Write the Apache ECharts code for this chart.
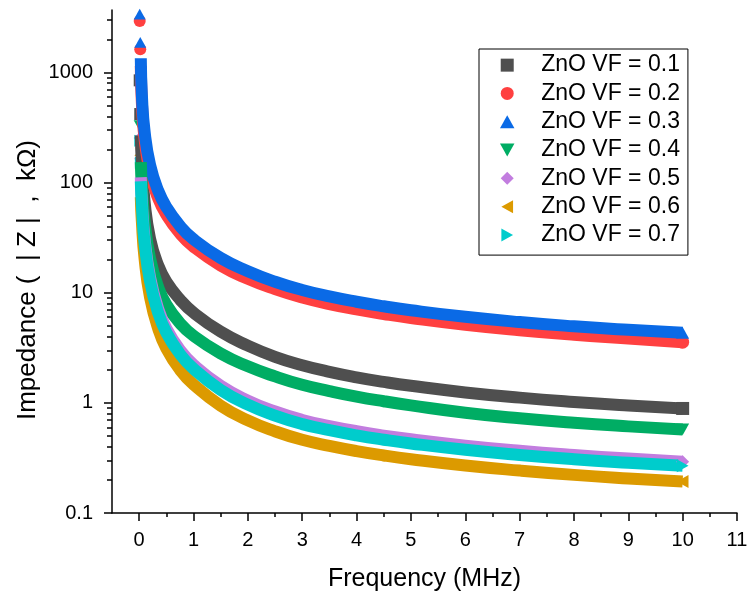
<!DOCTYPE html>
<html>
<head>
<meta charset="utf-8">
<script src="https://cdn.jsdelivr.net/npm/echarts@6/dist/echarts.min.js"></script>
<style>
html,body{margin:0;padding:0;background:#fff}
#chart{width:748px;height:592px}
</style>
</head>
<body>
<div id="chart"></div>
<script>
// frequency (MHz)
var freq = [0.01, 0.02, 0.03, 0.05, 0.1, 0.2, 0.35, 0.5, 0.75, 1, 1.5, 2, 2.5, 3, 3.5, 4, 4.5, 5, 6, 7, 8, 9, 10];
// |Z| in kOhm, one array per ZnO volume fraction
var vf01 = [850, 420, 269, 149, 67, 31, 17.7, 12.6, 8.7, 6.6, 4.43, 3.31, 2.62, 2.2, 1.914, 1.707, 1.552, 1.43, 1.245, 1.116, 1.021, 0.948, 0.89];
var vf02 = [2940, 1630, 1150, 530, 248, 124, 72, 51.3, 34.6, 26.2, 17.7, 13.4, 10.8, 9.06, 7.9, 7.07, 6.42, 5.9, 5.12, 4.57, 4.16, 3.85, 3.56];
var vf03 = [3400, 1880, 1350, 620, 290, 145, 84.5, 60, 40.5, 30.6, 20.7, 15.7, 12.6, 10.6, 9.26, 8.29, 7.54, 6.94, 6.05, 5.42, 4.96, 4.61, 4.33];
var vf04 = [330, 230, 154, 92, 44, 20.5, 11.2, 7.8, 5.3, 4.07, 2.81, 2.15, 1.74, 1.46, 1.28, 1.14, 1.035, 0.95, 0.815, 0.725, 0.66, 0.612, 0.574];
var vf05 = [255, 165, 112, 66, 30.7, 13.8, 7.15, 4.74, 3.03, 2.22, 1.43, 1.05, 0.835, 0.7, 0.616, 0.553, 0.505, 0.467, 0.409, 0.367, 0.336, 0.312, 0.292];
var vf06 = [177, 109, 74, 44, 20.3, 9.1, 4.72, 3.13, 2.0, 1.47, 0.943, 0.694, 0.552, 0.462, 0.407, 0.365, 0.333, 0.308, 0.27, 0.243, 0.222, 0.206, 0.193];
var vf07 = [240, 152, 103, 61, 28.2, 12.7, 6.56, 4.35, 2.78, 2.04, 1.31, 0.964, 0.766, 0.642, 0.565, 0.507, 0.463, 0.428, 0.375, 0.337, 0.308, 0.286, 0.268];

var names = ['ZnO VF = 0.1', 'ZnO VF = 0.2', 'ZnO VF = 0.3', 'ZnO VF = 0.4', 'ZnO VF = 0.5', 'ZnO VF = 0.6', 'ZnO VF = 0.7'];
var xTicks = [0, 1, 2, 3, 4, 5, 6, 7, 8, 9, 10, 11];
var xMinor = [0.5, 1.5, 2.5, 3.5, 4.5, 5.5, 6.5, 7.5, 8.5, 9.5, 10.5];
var yTicks = [0.1, 1, 10, 100, 1000];
var yMinor = [0.2, 0.3, 0.4, 0.5, 0.6, 0.7, 0.8, 0.9, 2, 3, 4, 5, 6, 7, 8, 9,
  20, 30, 40, 50, 60, 70, 80, 90, 200, 300, 400, 500, 600, 700, 800, 900, 2000, 3000];
var yMin = 0.1, yMax = 3700;

var colors = ['#4f4f4f', '#ff4040', '#0a6ae6', '#00ad64', '#c27ddf', '#dc9a00', '#00cccc'];
// marker shapes: square, circle, up, down, diamond, left, right
var icons = [
  'path://M0,0H10V10H0Z',
  'path://M5,0A5,5,0,1,1,5,10A5,5,0,1,1,5,0Z',
  'path://M5,0L10,9L0,9Z',
  'path://M0,0L10,0L5,9Z',
  'path://M5,0L10,5L5,10L0,5Z',
  'path://M0,5L9,0L9,10Z',
  'path://M0,0L9,5L0,10Z'
];
var font = '"Liberation Sans", Arial, sans-serif';
var lg = Math.log10;

var chart = echarts.init(document.getElementById('chart'));

var groups = [vf01, vf02, vf03, vf04, vf05, vf06, vf07];
var series = [];
groups.forEach(function (vals, i) {
  var pts = freq.map(function (f, j) { return [f, vals[j]]; });
  // first two points stand apart at the top of the spike
  series.push({
    name: names[i], type: 'scatter', data: pts.slice(0, 2),
    symbol: icons[i], symbolSize: 12, symbolKeepAspect: true,
    itemStyle: { color: colors[i], opacity: 1 }, silent: true
  });
  var rest = pts.slice(2).map(function (p, k, arr) {
    return k === arr.length - 1 ? { value: p } : { value: p, symbol: 'none' };
  });
  series.push({
    name: names[i], type: 'line', data: rest,
    smooth: 0.5,
    symbol: icons[i], symbolSize: 13, symbolKeepAspect: true, showSymbol: true,
    lineStyle: { width: 12, color: colors[i], cap: 'butt', join: 'round' },
    itemStyle: { color: colors[i] }, silent: true
  });
});

var tickStyle = { color: '#000', width: 1.5 };

var option = {
  animation: false,
  backgroundColor: '#fff',
  grid: { left: 112, right: 11, top: 10, bottom: 79, outerBoundsMode: 'none' },
  legend: {
    orient: 'vertical', left: 479, top: 49,
    padding: [2, 8, 6, 21], itemGap: 0,
    itemWidth: 58, itemHeight: 13,
    borderColor: '#000', borderWidth: 1, backgroundColor: '#fff',
    selectedMode: false,
    textStyle: { fontFamily: font, fontSize: 23, color: '#000', lineHeight: 28.3 },
    data: names.map(function (n, i) { return { name: n, icon: icons[i] }; })
  },
  graphic: [{
    type: 'text', x: 28, y: 280, rotation: Math.PI / 2,
    style: {
      text: 'Impedance (  | Z |  ,  kΩ)', fill: '#000',
      font: '26px "Liberation Sans", Arial, sans-serif',
      textAlign: 'center', textVerticalAlign: 'middle'
    }
  }],
  xAxis: [{
    type: 'value', min: -0.5, max: 11,
    name: 'Frequency (MHz)', nameLocation: 'middle', nameGap: 54,
    nameTextStyle: { fontFamily: font, fontSize: 25, color: '#000' },
    axisLine: { show: true, onZero: false, lineStyle: tickStyle },
    axisTick: { show: true, length: 8, customValues: xTicks, lineStyle: tickStyle },
    axisLabel: { customValues: xTicks, margin: 17, fontFamily: font, fontSize: 20, color: '#000' },
    splitLine: { show: false }
  }, {
    type: 'value', min: -0.5, max: 11, position: 'bottom',
    axisLine: { show: false, onZero: false },
    axisTick: { show: true, length: 4, customValues: xMinor, lineStyle: tickStyle },
    axisLabel: { show: false },
    splitLine: { show: false }
  }],
  yAxis: [{
    // data axis
    type: 'log', logBase: 10, min: yMin, max: yMax,
    axisLine: { show: true, onZero: false, lineStyle: tickStyle },
    axisTick: { show: false },
    axisLabel: { show: false },
    splitLine: { show: false }
  }, {
    // major ticks and labels, same span in decades
    type: 'value', min: lg(yMin), max: lg(yMax), position: 'left',
    axisLine: { show: false, onZero: false },
    axisTick: { show: true, length: 8, customValues: yTicks.map(lg), lineStyle: tickStyle },
    axisLabel: {
      customValues: yTicks.map(lg), margin: 19, fontFamily: font, fontSize: 20, color: '#000',
      formatter: function (v) {
        var r = Math.pow(10, v);
        return r < 1 ? r.toFixed(1) : String(Math.round(r));
      }
    },
    splitLine: { show: false }
  }, {
    // minor ticks
    type: 'value', min: lg(yMin), max: lg(yMax), position: 'left',
    axisLine: { show: false, onZero: false },
    axisTick: { show: true, length: 5, customValues: yMinor.map(lg), lineStyle: tickStyle },
    axisLabel: { show: false },
    splitLine: { show: false }
  }],
  series: series
};
chart.setOption(option);
</script>
</body>
</html>
